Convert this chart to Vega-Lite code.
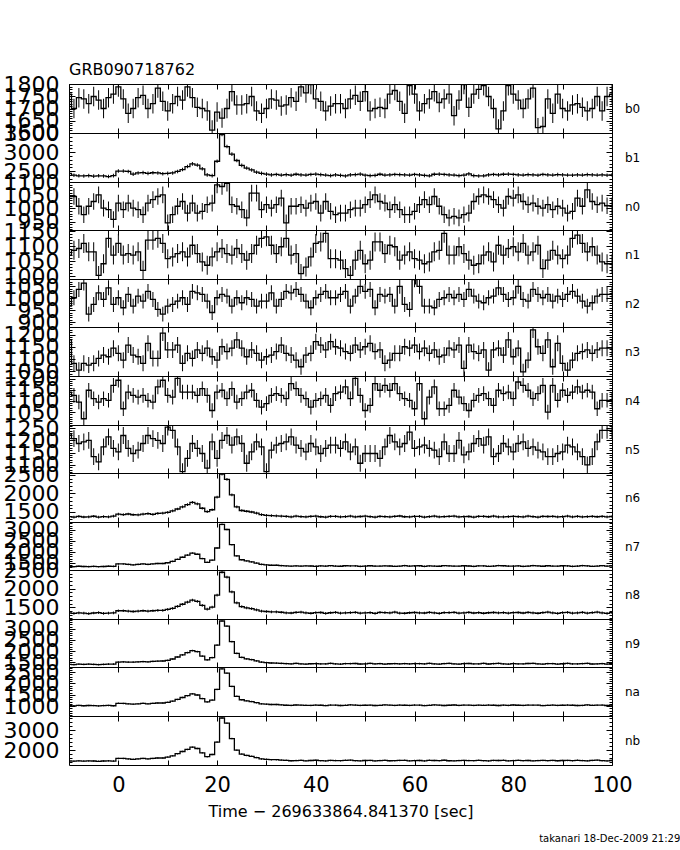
{"$schema":"https://vega.github.io/schema/vega-lite/v6.json",
"background":"white",
"padding":{"left":2,"top":61,"right":0,"bottom":0},
"title":{"text":"takanari 18-Dec-2009 21:29","orient":"bottom","anchor":"end","fontSize":10,"fontWeight":"normal","font":"DejaVu Sans","color":"black","offset":14,"dx":40},
"config":{"font":"DejaVu Sans","numberFormat":"d","view":{"stroke":"black","strokeWidth":1},
"axis":{"grid":false,"domain":false,"labelFont":"DejaVu Sans","labelFontSize":22,"labelColor":"black","tickColor":"black","tickWidth":1,"labelOverlap":false,"labelFlush":false,"labelBound":false,"titleFont":"DejaVu Sans","titleColor":"black","titleFontWeight":"normal","labelPadding":16,"tickSize":-6}},
"datasets":{
"b0":[{"t":-10,"c":1760},{"t":-9,"c":1700},{"t":-8,"c":1745},{"t":-7,"c":1740},{"t":-6,"c":1720},{"t":-5,"c":1750},{"t":-4,"c":1735},{"t":-3,"c":1700},{"t":-2,"c":1745},{"t":-1,"c":1760},{"t":0,"c":1790},{"t":1,"c":1740},{"t":2,"c":1680},{"t":3,"c":1700},{"t":4,"c":1745},{"t":5,"c":1755},{"t":6,"c":1700},{"t":7,"c":1720},{"t":8,"c":1785},{"t":9,"c":1730},{"t":10,"c":1690},{"t":11,"c":1720},{"t":12,"c":1750},{"t":13,"c":1735},{"t":14,"c":1790},{"t":15,"c":1745},{"t":16,"c":1705},{"t":17,"c":1700},{"t":18,"c":1690},{"t":19,"c":1610},{"t":20,"c":1685},{"t":21,"c":1660},{"t":22,"c":1700},{"t":23,"c":1770},{"t":24,"c":1715},{"t":25,"c":1715},{"t":26,"c":1720},{"t":27,"c":1750},{"t":28,"c":1690},{"t":29,"c":1680},{"t":30,"c":1700},{"t":31,"c":1740},{"t":32,"c":1735},{"t":33,"c":1710},{"t":34,"c":1715},{"t":35,"c":1745},{"t":36,"c":1730},{"t":37,"c":1790},{"t":38,"c":1765},{"t":39,"c":1800},{"t":40,"c":1740},{"t":41,"c":1730},{"t":42,"c":1690},{"t":43,"c":1710},{"t":44,"c":1720},{"t":45,"c":1720},{"t":46,"c":1700},{"t":47,"c":1740},{"t":48,"c":1755},{"t":49,"c":1730},{"t":50,"c":1770},{"t":51,"c":1690},{"t":52,"c":1700},{"t":53,"c":1705},{"t":54,"c":1700},{"t":55,"c":1760},{"t":56,"c":1775},{"t":57,"c":1730},{"t":58,"c":1680},{"t":59,"c":1795},{"t":60,"c":1760},{"t":61,"c":1690},{"t":62,"c":1720},{"t":63,"c":1740},{"t":64,"c":1770},{"t":65,"c":1725},{"t":66,"c":1740},{"t":67,"c":1760},{"t":68,"c":1670},{"t":69,"c":1735},{"t":70,"c":1800},{"t":71,"c":1705},{"t":72,"c":1760},{"t":73,"c":1780},{"t":74,"c":1795},{"t":75,"c":1750},{"t":76,"c":1700},{"t":77,"c":1615},{"t":78,"c":1690},{"t":79,"c":1795},{"t":80,"c":1760},{"t":81,"c":1735},{"t":82,"c":1700},{"t":83,"c":1740},{"t":84,"c":1785},{"t":85,"c":1620},{"t":86,"c":1625},{"t":87,"c":1740},{"t":88,"c":1680},{"t":89,"c":1760},{"t":90,"c":1700},{"t":91,"c":1690},{"t":92,"c":1715},{"t":93,"c":1720},{"t":94,"c":1705},{"t":95,"c":1690},{"t":96,"c":1700},{"t":97,"c":1750},{"t":98,"c":1690},{"t":99,"c":1750},{"t":100,"c":1760}],
"b1":[{"t":-10,"c":2440},{"t":-9,"c":2390},{"t":-8,"c":2375},{"t":-7,"c":2370},{"t":-6,"c":2380},{"t":-5,"c":2365},{"t":-4,"c":2375},{"t":-3,"c":2370},{"t":-2,"c":2355},{"t":-1,"c":2380},{"t":0,"c":2500},{"t":1,"c":2500},{"t":2,"c":2490},{"t":3,"c":2420},{"t":4,"c":2450},{"t":5,"c":2460},{"t":6,"c":2440},{"t":7,"c":2455},{"t":8,"c":2450},{"t":9,"c":2430},{"t":10,"c":2440},{"t":11,"c":2450},{"t":12,"c":2490},{"t":13,"c":2540},{"t":14,"c":2620},{"t":15,"c":2690},{"t":16,"c":2660},{"t":17,"c":2560},{"t":18,"c":2400},{"t":19,"c":2380},{"t":20,"c":2760},{"t":21,"c":3470},{"t":22,"c":3150},{"t":23,"c":2950},{"t":24,"c":2780},{"t":25,"c":2650},{"t":26,"c":2580},{"t":27,"c":2530},{"t":28,"c":2470},{"t":29,"c":2440},{"t":30,"c":2420},{"t":31,"c":2400},{"t":32,"c":2410},{"t":33,"c":2395},{"t":34,"c":2405},{"t":35,"c":2390},{"t":36,"c":2415},{"t":37,"c":2400},{"t":38,"c":2395},{"t":39,"c":2410},{"t":40,"c":2420},{"t":41,"c":2405},{"t":42,"c":2395},{"t":43,"c":2380},{"t":44,"c":2400},{"t":45,"c":2385},{"t":46,"c":2370},{"t":47,"c":2400},{"t":48,"c":2405},{"t":49,"c":2420},{"t":50,"c":2390},{"t":51,"c":2380},{"t":52,"c":2385},{"t":53,"c":2415},{"t":54,"c":2395},{"t":55,"c":2400},{"t":56,"c":2410},{"t":57,"c":2405},{"t":58,"c":2400},{"t":59,"c":2395},{"t":60,"c":2410},{"t":61,"c":2400},{"t":62,"c":2385},{"t":63,"c":2375},{"t":64,"c":2415},{"t":65,"c":2420},{"t":66,"c":2410},{"t":67,"c":2400},{"t":68,"c":2395},{"t":69,"c":2380},{"t":70,"c":2395},{"t":71,"c":2425},{"t":72,"c":2380},{"t":73,"c":2370},{"t":74,"c":2375},{"t":75,"c":2400},{"t":76,"c":2410},{"t":77,"c":2400},{"t":78,"c":2415},{"t":79,"c":2420},{"t":80,"c":2410},{"t":81,"c":2400},{"t":82,"c":2395},{"t":83,"c":2405},{"t":84,"c":2400},{"t":85,"c":2390},{"t":86,"c":2410},{"t":87,"c":2400},{"t":88,"c":2395},{"t":89,"c":2405},{"t":90,"c":2400},{"t":91,"c":2395},{"t":92,"c":2390},{"t":93,"c":2400},{"t":94,"c":2395},{"t":95,"c":2405},{"t":96,"c":2400},{"t":97,"c":2395},{"t":98,"c":2400},{"t":99,"c":2390},{"t":100,"c":2400}],
"n0":[{"t":-10,"c":1045},{"t":-9,"c":1045},{"t":-8,"c":1008},{"t":-7,"c":976},{"t":-6,"c":1008},{"t":-5,"c":1026},{"t":-4,"c":1051},{"t":-3,"c":1001},{"t":-2,"c":995},{"t":-1,"c":958},{"t":0,"c":1020},{"t":1,"c":995},{"t":2,"c":1020},{"t":3,"c":1001},{"t":4,"c":995},{"t":5,"c":976},{"t":6,"c":1020},{"t":7,"c":1033},{"t":8,"c":1045},{"t":9,"c":1051},{"t":10,"c":945},{"t":11,"c":976},{"t":12,"c":1008},{"t":13,"c":1026},{"t":14,"c":982},{"t":15,"c":1020},{"t":16,"c":982},{"t":17,"c":989},{"t":18,"c":1014},{"t":19,"c":1020},{"t":20,"c":1089},{"t":21,"c":1083},{"t":22,"c":1095},{"t":23,"c":1014},{"t":24,"c":1008},{"t":25,"c":995},{"t":26,"c":964},{"t":27,"c":1058},{"t":28,"c":1058},{"t":29,"c":995},{"t":30,"c":1014},{"t":31,"c":1001},{"t":32,"c":1014},{"t":33,"c":1039},{"t":34,"c":945},{"t":35,"c":1008},{"t":36,"c":1008},{"t":37,"c":1014},{"t":38,"c":1001},{"t":39,"c":1020},{"t":40,"c":1026},{"t":41,"c":982},{"t":42,"c":1026},{"t":43,"c":989},{"t":44,"c":976},{"t":45,"c":982},{"t":46,"c":982},{"t":47,"c":995},{"t":48,"c":1001},{"t":49,"c":1001},{"t":50,"c":1014},{"t":51,"c":1033},{"t":52,"c":1051},{"t":53,"c":1026},{"t":54,"c":1020},{"t":55,"c":995},{"t":56,"c":1014},{"t":57,"c":995},{"t":58,"c":976},{"t":59,"c":976},{"t":60,"c":989},{"t":61,"c":1014},{"t":62,"c":1033},{"t":63,"c":1014},{"t":64,"c":1045},{"t":65,"c":1008},{"t":66,"c":976},{"t":67,"c":964},{"t":68,"c":970},{"t":69,"c":964},{"t":70,"c":976},{"t":71,"c":982},{"t":72,"c":1026},{"t":73,"c":1045},{"t":74,"c":1051},{"t":75,"c":1045},{"t":76,"c":1033},{"t":77,"c":1014},{"t":78,"c":1001},{"t":79,"c":1045},{"t":80,"c":1039},{"t":81,"c":1051},{"t":82,"c":1026},{"t":83,"c":1014},{"t":84,"c":1020},{"t":85,"c":1008},{"t":86,"c":1001},{"t":87,"c":1014},{"t":88,"c":995},{"t":89,"c":1008},{"t":90,"c":1001},{"t":91,"c":982},{"t":92,"c":989},{"t":93,"c":1039},{"t":94,"c":1008},{"t":95,"c":1070},{"t":96,"c":1026},{"t":97,"c":1014},{"t":98,"c":1020},{"t":99,"c":1010},{"t":100,"c":1010}],
"n1":[{"t":-10,"c":1071},{"t":-9,"c":1087},{"t":-8,"c":1093},{"t":-7,"c":1110},{"t":-6,"c":1082},{"t":-5,"c":1082},{"t":-4,"c":1003},{"t":-3,"c":1042},{"t":-2,"c":1127},{"t":-1,"c":1071},{"t":0,"c":1110},{"t":1,"c":1071},{"t":2,"c":1076},{"t":3,"c":1071},{"t":4,"c":1082},{"t":5,"c":1020},{"t":6,"c":1121},{"t":7,"c":1121},{"t":8,"c":1127},{"t":9,"c":1110},{"t":10,"c":1059},{"t":11,"c":1065},{"t":12,"c":1076},{"t":13,"c":1082},{"t":14,"c":1065},{"t":15,"c":1104},{"t":16,"c":1076},{"t":17,"c":1048},{"t":18,"c":1037},{"t":19,"c":1065},{"t":20,"c":1082},{"t":21,"c":1093},{"t":22,"c":1076},{"t":23,"c":1071},{"t":24,"c":1093},{"t":25,"c":1076},{"t":26,"c":1054},{"t":27,"c":1076},{"t":28,"c":1104},{"t":29,"c":1127},{"t":30,"c":1132},{"t":31,"c":1104},{"t":32,"c":1076},{"t":33,"c":1099},{"t":34,"c":1127},{"t":35,"c":1071},{"t":36,"c":1076},{"t":37,"c":1009},{"t":38,"c":1031},{"t":39,"c":1065},{"t":40,"c":1110},{"t":41,"c":1115},{"t":42,"c":1144},{"t":43,"c":1059},{"t":44,"c":1059},{"t":45,"c":1054},{"t":46,"c":1026},{"t":47,"c":1003},{"t":48,"c":1054},{"t":49,"c":1087},{"t":50,"c":1042},{"t":51,"c":1054},{"t":52,"c":1115},{"t":53,"c":1115},{"t":54,"c":1076},{"t":55,"c":1104},{"t":56,"c":1099},{"t":57,"c":1054},{"t":58,"c":1071},{"t":59,"c":1082},{"t":60,"c":1059},{"t":61,"c":1054},{"t":62,"c":1042},{"t":63,"c":1048},{"t":64,"c":1082},{"t":65,"c":1087},{"t":66,"c":1144},{"t":67,"c":1071},{"t":68,"c":1071},{"t":69,"c":1099},{"t":70,"c":1076},{"t":71,"c":1054},{"t":72,"c":1037},{"t":73,"c":1042},{"t":74,"c":1071},{"t":75,"c":1082},{"t":76,"c":1048},{"t":77,"c":1104},{"t":78,"c":1071},{"t":79,"c":1093},{"t":80,"c":1099},{"t":81,"c":1082},{"t":82,"c":1110},{"t":83,"c":1071},{"t":84,"c":1082},{"t":85,"c":1104},{"t":86,"c":1026},{"t":87,"c":1054},{"t":88,"c":1087},{"t":89,"c":1071},{"t":90,"c":1059},{"t":91,"c":1071},{"t":92,"c":1127},{"t":93,"c":1138},{"t":94,"c":1110},{"t":95,"c":1082},{"t":96,"c":1099},{"t":97,"c":1071},{"t":98,"c":1048},{"t":99,"c":1042},{"t":100,"c":1042}],
"n2":[{"t":-10,"c":967},{"t":-9,"c":1002},{"t":-8,"c":1037},{"t":-7,"c":1064},{"t":-6,"c":933},{"t":-5,"c":974},{"t":-4,"c":1023},{"t":-3,"c":995},{"t":-2,"c":1044},{"t":-1,"c":974},{"t":0,"c":1002},{"t":1,"c":960},{"t":2,"c":1016},{"t":3,"c":967},{"t":4,"c":1009},{"t":5,"c":988},{"t":6,"c":1029},{"t":7,"c":995},{"t":8,"c":953},{"t":9,"c":933},{"t":10,"c":967},{"t":11,"c":974},{"t":12,"c":988},{"t":13,"c":1002},{"t":14,"c":974},{"t":15,"c":1029},{"t":16,"c":1023},{"t":17,"c":1016},{"t":18,"c":988},{"t":19,"c":940},{"t":20,"c":1002},{"t":21,"c":1016},{"t":22,"c":1009},{"t":23,"c":967},{"t":24,"c":1002},{"t":25,"c":981},{"t":26,"c":1002},{"t":27,"c":995},{"t":28,"c":967},{"t":29,"c":988},{"t":30,"c":988},{"t":31,"c":1023},{"t":32,"c":967},{"t":33,"c":995},{"t":34,"c":1029},{"t":35,"c":1023},{"t":36,"c":1037},{"t":37,"c":1016},{"t":38,"c":988},{"t":39,"c":960},{"t":40,"c":1002},{"t":41,"c":1016},{"t":42,"c":1029},{"t":43,"c":1002},{"t":44,"c":1002},{"t":45,"c":1016},{"t":46,"c":1029},{"t":47,"c":967},{"t":48,"c":1009},{"t":49,"c":1050},{"t":50,"c":1029},{"t":51,"c":1037},{"t":52,"c":960},{"t":53,"c":1016},{"t":54,"c":1009},{"t":55,"c":1016},{"t":56,"c":967},{"t":57,"c":1050},{"t":58,"c":974},{"t":59,"c":953},{"t":60,"c":1078},{"t":61,"c":1050},{"t":62,"c":967},{"t":63,"c":967},{"t":64,"c":960},{"t":65,"c":995},{"t":66,"c":1002},{"t":67,"c":1016},{"t":68,"c":1002},{"t":69,"c":1016},{"t":70,"c":995},{"t":71,"c":1037},{"t":72,"c":1009},{"t":73,"c":988},{"t":74,"c":981},{"t":75,"c":1002},{"t":76,"c":1009},{"t":77,"c":1044},{"t":78,"c":1016},{"t":79,"c":995},{"t":80,"c":1002},{"t":81,"c":1050},{"t":82,"c":995},{"t":83,"c":988},{"t":84,"c":1037},{"t":85,"c":1016},{"t":86,"c":1002},{"t":87,"c":1016},{"t":88,"c":988},{"t":89,"c":1009},{"t":90,"c":995},{"t":91,"c":1016},{"t":92,"c":1029},{"t":93,"c":1009},{"t":94,"c":988},{"t":95,"c":967},{"t":96,"c":981},{"t":97,"c":1009},{"t":98,"c":1016},{"t":99,"c":1016},{"t":100,"c":1016}],
"n3":[{"t":-10,"c":1178},{"t":-9,"c":1082},{"t":-8,"c":1054},{"t":-7,"c":1082},{"t":-6,"c":1075},{"t":-5,"c":1082},{"t":-4,"c":1102},{"t":-3,"c":1116},{"t":-2,"c":1109},{"t":-1,"c":1144},{"t":0,"c":1123},{"t":1,"c":1095},{"t":2,"c":1157},{"t":3,"c":1116},{"t":4,"c":1109},{"t":5,"c":1082},{"t":6,"c":1164},{"t":7,"c":1102},{"t":8,"c":1102},{"t":9,"c":1206},{"t":10,"c":1137},{"t":11,"c":1137},{"t":12,"c":1157},{"t":13,"c":1082},{"t":14,"c":1123},{"t":15,"c":1102},{"t":16,"c":1137},{"t":17,"c":1123},{"t":18,"c":1144},{"t":19,"c":1109},{"t":20,"c":1095},{"t":21,"c":1150},{"t":22,"c":1130},{"t":23,"c":1144},{"t":24,"c":1178},{"t":25,"c":1144},{"t":26,"c":1109},{"t":27,"c":1137},{"t":28,"c":1123},{"t":29,"c":1095},{"t":30,"c":1109},{"t":31,"c":1116},{"t":32,"c":1130},{"t":33,"c":1157},{"t":34,"c":1123},{"t":35,"c":1116},{"t":36,"c":1095},{"t":37,"c":1068},{"t":38,"c":1116},{"t":39,"c":1123},{"t":40,"c":1171},{"t":41,"c":1157},{"t":42,"c":1137},{"t":43,"c":1171},{"t":44,"c":1150},{"t":45,"c":1144},{"t":46,"c":1130},{"t":47,"c":1123},{"t":48,"c":1157},{"t":49,"c":1137},{"t":50,"c":1150},{"t":51,"c":1164},{"t":52,"c":1130},{"t":53,"c":1137},{"t":54,"c":1082},{"t":55,"c":1095},{"t":56,"c":1123},{"t":57,"c":1123},{"t":58,"c":1150},{"t":59,"c":1144},{"t":60,"c":1157},{"t":61,"c":1130},{"t":62,"c":1144},{"t":63,"c":1123},{"t":64,"c":1137},{"t":65,"c":1109},{"t":66,"c":1116},{"t":67,"c":1144},{"t":68,"c":1137},{"t":69,"c":1157},{"t":70,"c":1061},{"t":71,"c":1157},{"t":72,"c":1130},{"t":73,"c":1123},{"t":74,"c":1137},{"t":75,"c":1054},{"t":76,"c":1137},{"t":77,"c":1144},{"t":78,"c":1116},{"t":79,"c":1178},{"t":80,"c":1109},{"t":81,"c":1144},{"t":82,"c":1047},{"t":83,"c":1095},{"t":84,"c":1219},{"t":85,"c":1150},{"t":86,"c":1123},{"t":87,"c":1178},{"t":88,"c":1068},{"t":89,"c":1164},{"t":90,"c":1082},{"t":91,"c":1054},{"t":92,"c":1095},{"t":93,"c":1123},{"t":94,"c":1130},{"t":95,"c":1137},{"t":96,"c":1123},{"t":97,"c":1137},{"t":98,"c":1144},{"t":99,"c":1144},{"t":100,"c":1144}],
"n4":[{"t":-10,"c":1140},{"t":-9,"c":1125},{"t":-8,"c":1095},{"t":-7,"c":1020},{"t":-6,"c":1148},{"t":-5,"c":1110},{"t":-4,"c":1095},{"t":-3,"c":1110},{"t":-2,"c":1103},{"t":-1,"c":1170},{"t":0,"c":1193},{"t":1,"c":1065},{"t":2,"c":1140},{"t":3,"c":1125},{"t":4,"c":1117},{"t":5,"c":1125},{"t":6,"c":1103},{"t":7,"c":1095},{"t":8,"c":1163},{"t":9,"c":1193},{"t":10,"c":1125},{"t":11,"c":1117},{"t":12,"c":1201},{"t":13,"c":1140},{"t":14,"c":1140},{"t":15,"c":1140},{"t":16,"c":1125},{"t":17,"c":1155},{"t":18,"c":1125},{"t":19,"c":1057},{"t":20,"c":1140},{"t":21,"c":1148},{"t":22,"c":1110},{"t":23,"c":1155},{"t":24,"c":1095},{"t":25,"c":1110},{"t":26,"c":1140},{"t":27,"c":1148},{"t":28,"c":1103},{"t":29,"c":1072},{"t":30,"c":1088},{"t":31,"c":1125},{"t":32,"c":1133},{"t":33,"c":1125},{"t":34,"c":1110},{"t":35,"c":1178},{"t":36,"c":1155},{"t":37,"c":1125},{"t":38,"c":1110},{"t":39,"c":1072},{"t":40,"c":1103},{"t":41,"c":1110},{"t":42,"c":1125},{"t":43,"c":1080},{"t":44,"c":1133},{"t":45,"c":1140},{"t":46,"c":1163},{"t":47,"c":1110},{"t":48,"c":1201},{"t":49,"c":1125},{"t":50,"c":1057},{"t":51,"c":1080},{"t":52,"c":1178},{"t":53,"c":1148},{"t":54,"c":1170},{"t":55,"c":1148},{"t":56,"c":1178},{"t":57,"c":1133},{"t":58,"c":1110},{"t":59,"c":1103},{"t":60,"c":1065},{"t":61,"c":1178},{"t":62,"c":1020},{"t":63,"c":1117},{"t":64,"c":1163},{"t":65,"c":1065},{"t":66,"c":1065},{"t":67,"c":1080},{"t":68,"c":1148},{"t":69,"c":1117},{"t":70,"c":1088},{"t":71,"c":1057},{"t":72,"c":1103},{"t":73,"c":1125},{"t":74,"c":1133},{"t":75,"c":1110},{"t":76,"c":1080},{"t":77,"c":1148},{"t":78,"c":1133},{"t":79,"c":1140},{"t":80,"c":1110},{"t":81,"c":1185},{"t":82,"c":1170},{"t":83,"c":1148},{"t":84,"c":1110},{"t":85,"c":1133},{"t":86,"c":1170},{"t":87,"c":1050},{"t":88,"c":1170},{"t":89,"c":1103},{"t":90,"c":1148},{"t":91,"c":1125},{"t":92,"c":1140},{"t":93,"c":1163},{"t":94,"c":1140},{"t":95,"c":1148},{"t":96,"c":1140},{"t":97,"c":1065},{"t":98,"c":1103},{"t":99,"c":1103},{"t":100,"c":1103}],
"n5":[{"t":-10,"c":1227},{"t":-9,"c":1207},{"t":-8,"c":1187},{"t":-7,"c":1194},{"t":-6,"c":1200},{"t":-5,"c":1133},{"t":-4,"c":1112},{"t":-3,"c":1173},{"t":-2,"c":1214},{"t":-1,"c":1167},{"t":0,"c":1153},{"t":1,"c":1220},{"t":2,"c":1167},{"t":3,"c":1146},{"t":4,"c":1160},{"t":5,"c":1187},{"t":6,"c":1220},{"t":7,"c":1207},{"t":8,"c":1200},{"t":9,"c":1187},{"t":10,"c":1254},{"t":11,"c":1241},{"t":12,"c":1173},{"t":13,"c":1072},{"t":14,"c":1126},{"t":15,"c":1187},{"t":16,"c":1167},{"t":17,"c":1146},{"t":18,"c":1086},{"t":19,"c":1194},{"t":20,"c":1126},{"t":21,"c":1200},{"t":22,"c":1220},{"t":23,"c":1180},{"t":24,"c":1214},{"t":25,"c":1187},{"t":26,"c":1106},{"t":27,"c":1153},{"t":28,"c":1194},{"t":29,"c":1173},{"t":30,"c":1072},{"t":31,"c":1160},{"t":32,"c":1180},{"t":33,"c":1187},{"t":34,"c":1194},{"t":35,"c":1214},{"t":36,"c":1180},{"t":37,"c":1167},{"t":38,"c":1153},{"t":39,"c":1187},{"t":40,"c":1173},{"t":41,"c":1146},{"t":42,"c":1167},{"t":43,"c":1180},{"t":44,"c":1180},{"t":45,"c":1167},{"t":46,"c":1194},{"t":47,"c":1153},{"t":48,"c":1173},{"t":49,"c":1106},{"t":50,"c":1146},{"t":51,"c":1146},{"t":52,"c":1146},{"t":53,"c":1126},{"t":54,"c":1173},{"t":55,"c":1220},{"t":56,"c":1194},{"t":57,"c":1173},{"t":58,"c":1187},{"t":59,"c":1234},{"t":60,"c":1167},{"t":61,"c":1173},{"t":62,"c":1180},{"t":63,"c":1167},{"t":64,"c":1160},{"t":65,"c":1133},{"t":66,"c":1194},{"t":67,"c":1146},{"t":68,"c":1146},{"t":69,"c":1200},{"t":70,"c":1140},{"t":71,"c":1153},{"t":72,"c":1187},{"t":73,"c":1207},{"t":74,"c":1180},{"t":75,"c":1214},{"t":76,"c":1133},{"t":77,"c":1146},{"t":78,"c":1187},{"t":79,"c":1173},{"t":80,"c":1153},{"t":81,"c":1187},{"t":82,"c":1194},{"t":83,"c":1167},{"t":84,"c":1173},{"t":85,"c":1160},{"t":86,"c":1153},{"t":87,"c":1133},{"t":88,"c":1133},{"t":89,"c":1146},{"t":90,"c":1153},{"t":91,"c":1180},{"t":92,"c":1173},{"t":93,"c":1153},{"t":94,"c":1133},{"t":95,"c":1099},{"t":96,"c":1133},{"t":97,"c":1194},{"t":98,"c":1241},{"t":99,"c":1241},{"t":100,"c":1241}],
"n6":[{"t":-10,"c":1375},{"t":-9,"c":1360},{"t":-8,"c":1380},{"t":-7,"c":1365},{"t":-6,"c":1370},{"t":-5,"c":1385},{"t":-4,"c":1360},{"t":-3,"c":1375},{"t":-2,"c":1370},{"t":-1,"c":1390},{"t":0,"c":1440},{"t":1,"c":1430},{"t":2,"c":1445},{"t":3,"c":1425},{"t":4,"c":1420},{"t":5,"c":1440},{"t":6,"c":1455},{"t":7,"c":1435},{"t":8,"c":1460},{"t":9,"c":1470},{"t":10,"c":1490},{"t":11,"c":1530},{"t":12,"c":1580},{"t":13,"c":1640},{"t":14,"c":1700},{"t":15,"c":1760},{"t":16,"c":1720},{"t":17,"c":1600},{"t":18,"c":1510},{"t":19,"c":1560},{"t":20,"c":1900},{"t":21,"c":2520},{"t":22,"c":2380},{"t":23,"c":1960},{"t":24,"c":1640},{"t":25,"c":1540},{"t":26,"c":1520},{"t":27,"c":1500},{"t":28,"c":1470},{"t":29,"c":1430},{"t":30,"c":1410},{"t":31,"c":1400},{"t":32,"c":1395},{"t":33,"c":1388},{"t":34,"c":1382},{"t":35,"c":1370},{"t":36,"c":1387},{"t":37,"c":1375},{"t":38,"c":1366},{"t":39,"c":1381},{"t":40,"c":1390},{"t":41,"c":1372},{"t":42,"c":1363},{"t":43,"c":1380},{"t":44,"c":1384},{"t":45,"c":1369},{"t":46,"c":1375},{"t":47,"c":1386},{"t":48,"c":1368},{"t":49,"c":1378},{"t":50,"c":1388},{"t":51,"c":1374},{"t":52,"c":1364},{"t":53,"c":1381},{"t":54,"c":1375},{"t":55,"c":1370},{"t":56,"c":1384},{"t":57,"c":1392},{"t":58,"c":1372},{"t":59,"c":1366},{"t":60,"c":1380},{"t":61,"c":1382},{"t":62,"c":1363},{"t":63,"c":1376},{"t":64,"c":1386},{"t":65,"c":1369},{"t":66,"c":1374},{"t":67,"c":1381},{"t":68,"c":1387},{"t":69,"c":1368},{"t":70,"c":1375},{"t":71,"c":1378},{"t":72,"c":1364},{"t":73,"c":1384},{"t":74,"c":1380},{"t":75,"c":1372},{"t":76,"c":1388},{"t":77,"c":1369},{"t":78,"c":1366},{"t":79,"c":1376},{"t":80,"c":1382},{"t":81,"c":1375},{"t":82,"c":1370},{"t":83,"c":1386},{"t":84,"c":1374},{"t":85,"c":1363},{"t":86,"c":1381},{"t":87,"c":1378},{"t":88,"c":1384},{"t":89,"c":1368},{"t":90,"c":1375},{"t":91,"c":1387},{"t":92,"c":1370},{"t":93,"c":1380},{"t":94,"c":1366},{"t":95,"c":1376},{"t":96,"c":1382},{"t":97,"c":1372},{"t":98,"c":1381},{"t":99,"c":1369},{"t":100,"c":1378}],
"n7":[{"t":-10,"c":1345},{"t":-9,"c":1330},{"t":-8,"c":1350},{"t":-7,"c":1340},{"t":-6,"c":1335},{"t":-5,"c":1345},{"t":-4,"c":1330},{"t":-3,"c":1340},{"t":-2,"c":1350},{"t":-1,"c":1345},{"t":0,"c":1455},{"t":1,"c":1455},{"t":2,"c":1435},{"t":3,"c":1415},{"t":4,"c":1435},{"t":5,"c":1455},{"t":6,"c":1435},{"t":7,"c":1455},{"t":8,"c":1475},{"t":9,"c":1475},{"t":10,"c":1510},{"t":11,"c":1570},{"t":12,"c":1665},{"t":13,"c":1760},{"t":14,"c":1855},{"t":15,"c":1950},{"t":16,"c":1895},{"t":17,"c":1700},{"t":18,"c":1530},{"t":19,"c":1625},{"t":20,"c":2180},{"t":21,"c":3250},{"t":22,"c":3020},{"t":23,"c":2330},{"t":24,"c":1820},{"t":25,"c":1645},{"t":26,"c":1590},{"t":27,"c":1550},{"t":28,"c":1495},{"t":29,"c":1435},{"t":30,"c":1415},{"t":31,"c":1395},{"t":32,"c":1395},{"t":33,"c":1380},{"t":34,"c":1364},{"t":35,"c":1352},{"t":36,"c":1368},{"t":37,"c":1356},{"t":38,"c":1370},{"t":39,"c":1362},{"t":40,"c":1348},{"t":41,"c":1366},{"t":42,"c":1354},{"t":43,"c":1376},{"t":44,"c":1360},{"t":45,"c":1350},{"t":46,"c":1372},{"t":47,"c":1364},{"t":48,"c":1368},{"t":49,"c":1344},{"t":50,"c":1358},{"t":51,"c":1374},{"t":52,"c":1354},{"t":53,"c":1360},{"t":54,"c":1370},{"t":55,"c":1362},{"t":56,"c":1348},{"t":57,"c":1352},{"t":58,"c":1378},{"t":59,"c":1356},{"t":60,"c":1366},{"t":61,"c":1372},{"t":62,"c":1346},{"t":63,"c":1364},{"t":64,"c":1360},{"t":65,"c":1350},{"t":66,"c":1376},{"t":67,"c":1368},{"t":68,"c":1358},{"t":69,"c":1352},{"t":70,"c":1374},{"t":71,"c":1362},{"t":72,"c":1344},{"t":73,"c":1370},{"t":74,"c":1366},{"t":75,"c":1348},{"t":76,"c":1356},{"t":77,"c":1382},{"t":78,"c":1372},{"t":79,"c":1354},{"t":80,"c":1360},{"t":81,"c":1368},{"t":82,"c":1346},{"t":83,"c":1358},{"t":84,"c":1378},{"t":85,"c":1364},{"t":86,"c":1350},{"t":87,"c":1374},{"t":88,"c":1360},{"t":89,"c":1352},{"t":90,"c":1372},{"t":91,"c":1366},{"t":92,"c":1344},{"t":93,"c":1356},{"t":94,"c":1380},{"t":95,"c":1368},{"t":96,"c":1348},{"t":97,"c":1360},{"t":98,"c":1376},{"t":99,"c":1354},{"t":100,"c":1370}],
"n8":[{"t":-10,"c":1345},{"t":-9,"c":1335},{"t":-8,"c":1350},{"t":-7,"c":1340},{"t":-6,"c":1330},{"t":-5,"c":1345},{"t":-4,"c":1355},{"t":-3,"c":1335},{"t":-2,"c":1340},{"t":-1,"c":1350},{"t":0,"c":1405},{"t":1,"c":1405},{"t":2,"c":1395},{"t":3,"c":1385},{"t":4,"c":1395},{"t":5,"c":1405},{"t":6,"c":1395},{"t":7,"c":1405},{"t":8,"c":1415},{"t":9,"c":1415},{"t":10,"c":1440},{"t":11,"c":1470},{"t":12,"c":1525},{"t":13,"c":1580},{"t":14,"c":1635},{"t":15,"c":1690},{"t":16,"c":1660},{"t":17,"c":1550},{"t":18,"c":1450},{"t":19,"c":1505},{"t":20,"c":1825},{"t":21,"c":2440},{"t":22,"c":2310},{"t":23,"c":1910},{"t":24,"c":1615},{"t":25,"c":1515},{"t":26,"c":1485},{"t":27,"c":1460},{"t":28,"c":1430},{"t":29,"c":1395},{"t":30,"c":1385},{"t":31,"c":1375},{"t":32,"c":1375},{"t":33,"c":1365},{"t":34,"c":1350},{"t":35,"c":1345},{"t":36,"c":1361},{"t":37,"c":1370},{"t":38,"c":1346},{"t":39,"c":1339},{"t":40,"c":1355},{"t":41,"c":1359},{"t":42,"c":1336},{"t":43,"c":1352},{"t":44,"c":1363},{"t":45,"c":1343},{"t":46,"c":1348},{"t":47,"c":1357},{"t":48,"c":1364},{"t":49,"c":1341},{"t":50,"c":1350},{"t":51,"c":1354},{"t":52,"c":1337},{"t":53,"c":1361},{"t":54,"c":1355},{"t":55,"c":1346},{"t":56,"c":1366},{"t":57,"c":1343},{"t":58,"c":1339},{"t":59,"c":1352},{"t":60,"c":1359},{"t":61,"c":1350},{"t":62,"c":1345},{"t":63,"c":1363},{"t":64,"c":1348},{"t":65,"c":1336},{"t":66,"c":1357},{"t":67,"c":1354},{"t":68,"c":1361},{"t":69,"c":1341},{"t":70,"c":1350},{"t":71,"c":1364},{"t":72,"c":1345},{"t":73,"c":1355},{"t":74,"c":1339},{"t":75,"c":1352},{"t":76,"c":1359},{"t":77,"c":1346},{"t":78,"c":1357},{"t":79,"c":1343},{"t":80,"c":1354},{"t":81,"c":1359},{"t":82,"c":1345},{"t":83,"c":1364},{"t":84,"c":1350},{"t":85,"c":1339},{"t":86,"c":1357},{"t":87,"c":1368},{"t":88,"c":1346},{"t":89,"c":1336},{"t":90,"c":1355},{"t":91,"c":1361},{"t":92,"c":1343},{"t":93,"c":1350},{"t":94,"c":1363},{"t":95,"c":1341},{"t":96,"c":1354},{"t":97,"c":1366},{"t":98,"c":1348},{"t":99,"c":1337},{"t":100,"c":1357}],
"n9":[{"t":-10,"c":1400},{"t":-9,"c":1390},{"t":-8,"c":1410},{"t":-7,"c":1395},{"t":-6,"c":1405},{"t":-5,"c":1400},{"t":-4,"c":1385},{"t":-3,"c":1400},{"t":-2,"c":1410},{"t":-1,"c":1405},{"t":0,"c":1500},{"t":1,"c":1510},{"t":2,"c":1500},{"t":3,"c":1495},{"t":4,"c":1510},{"t":5,"c":1520},{"t":6,"c":1515},{"t":7,"c":1530},{"t":8,"c":1540},{"t":9,"c":1550},{"t":10,"c":1580},{"t":11,"c":1640},{"t":12,"c":1730},{"t":13,"c":1830},{"t":14,"c":1930},{"t":15,"c":2020},{"t":16,"c":1970},{"t":17,"c":1770},{"t":18,"c":1600},{"t":19,"c":1700},{"t":20,"c":2260},{"t":21,"c":3350},{"t":22,"c":3120},{"t":23,"c":2420},{"t":24,"c":1890},{"t":25,"c":1710},{"t":26,"c":1650},{"t":27,"c":1610},{"t":28,"c":1560},{"t":29,"c":1500},{"t":30,"c":1480},{"t":31,"c":1460},{"t":32,"c":1455},{"t":33,"c":1440},{"t":34,"c":1431},{"t":35,"c":1421},{"t":36,"c":1443},{"t":37,"c":1417},{"t":38,"c":1413},{"t":39,"c":1427},{"t":40,"c":1435},{"t":41,"c":1425},{"t":42,"c":1419},{"t":43,"c":1439},{"t":44,"c":1423},{"t":45,"c":1409},{"t":46,"c":1433},{"t":47,"c":1429},{"t":48,"c":1437},{"t":49,"c":1415},{"t":50,"c":1425},{"t":51,"c":1441},{"t":52,"c":1419},{"t":53,"c":1431},{"t":54,"c":1413},{"t":55,"c":1427},{"t":56,"c":1435},{"t":57,"c":1421},{"t":58,"c":1433},{"t":59,"c":1417},{"t":60,"c":1429},{"t":61,"c":1435},{"t":62,"c":1419},{"t":63,"c":1441},{"t":64,"c":1425},{"t":65,"c":1413},{"t":66,"c":1433},{"t":67,"c":1445},{"t":68,"c":1421},{"t":69,"c":1409},{"t":70,"c":1431},{"t":71,"c":1437},{"t":72,"c":1417},{"t":73,"c":1425},{"t":74,"c":1439},{"t":75,"c":1415},{"t":76,"c":1429},{"t":77,"c":1443},{"t":78,"c":1423},{"t":79,"c":1411},{"t":80,"c":1433},{"t":81,"c":1425},{"t":82,"c":1419},{"t":83,"c":1437},{"t":84,"c":1447},{"t":85,"c":1421},{"t":86,"c":1413},{"t":87,"c":1431},{"t":88,"c":1435},{"t":89,"c":1409},{"t":90,"c":1427},{"t":91,"c":1439},{"t":92,"c":1417},{"t":93,"c":1423},{"t":94,"c":1433},{"t":95,"c":1441},{"t":96,"c":1415},{"t":97,"c":1425},{"t":98,"c":1429},{"t":99,"c":1411},{"t":100,"c":1437}],
"na":[{"t":-10,"c":1020},{"t":-9,"c":1010},{"t":-8,"c":1030},{"t":-7,"c":1015},{"t":-6,"c":1025},{"t":-5,"c":1020},{"t":-4,"c":1005},{"t":-3,"c":1020},{"t":-2,"c":1030},{"t":-1,"c":1015},{"t":0,"c":1120},{"t":1,"c":1115},{"t":2,"c":1100},{"t":3,"c":1085},{"t":4,"c":1100},{"t":5,"c":1120},{"t":6,"c":1100},{"t":7,"c":1120},{"t":8,"c":1135},{"t":9,"c":1135},{"t":10,"c":1165},{"t":11,"c":1215},{"t":12,"c":1295},{"t":13,"c":1380},{"t":14,"c":1460},{"t":15,"c":1540},{"t":16,"c":1490},{"t":17,"c":1330},{"t":18,"c":1185},{"t":19,"c":1265},{"t":20,"c":1735},{"t":21,"c":2650},{"t":22,"c":2455},{"t":23,"c":1870},{"t":24,"c":1430},{"t":25,"c":1280},{"t":26,"c":1230},{"t":27,"c":1200},{"t":28,"c":1150},{"t":29,"c":1100},{"t":30,"c":1085},{"t":31,"c":1070},{"t":32,"c":1070},{"t":33,"c":1055},{"t":34,"c":1035},{"t":35,"c":1027},{"t":36,"c":1048},{"t":37,"c":1041},{"t":38,"c":1033},{"t":39,"c":1029},{"t":40,"c":1046},{"t":41,"c":1037},{"t":42,"c":1022},{"t":43,"c":1043},{"t":44,"c":1040},{"t":45,"c":1025},{"t":46,"c":1032},{"t":47,"c":1053},{"t":48,"c":1045},{"t":49,"c":1030},{"t":50,"c":1035},{"t":51,"c":1041},{"t":52,"c":1024},{"t":53,"c":1033},{"t":54,"c":1049},{"t":55,"c":1038},{"t":56,"c":1027},{"t":57,"c":1046},{"t":58,"c":1035},{"t":59,"c":1029},{"t":60,"c":1045},{"t":61,"c":1040},{"t":62,"c":1022},{"t":63,"c":1032},{"t":64,"c":1051},{"t":65,"c":1041},{"t":66,"c":1025},{"t":67,"c":1035},{"t":68,"c":1048},{"t":69,"c":1030},{"t":70,"c":1043},{"t":71,"c":1038},{"t":72,"c":1029},{"t":73,"c":1041},{"t":74,"c":1032},{"t":75,"c":1043},{"t":76,"c":1037},{"t":77,"c":1025},{"t":78,"c":1040},{"t":79,"c":1030},{"t":80,"c":1048},{"t":81,"c":1035},{"t":82,"c":1027},{"t":83,"c":1045},{"t":84,"c":1038},{"t":85,"c":1041},{"t":86,"c":1022},{"t":87,"c":1033},{"t":88,"c":1046},{"t":89,"c":1030},{"t":90,"c":1035},{"t":91,"c":1043},{"t":92,"c":1037},{"t":93,"c":1025},{"t":94,"c":1029},{"t":95,"c":1049},{"t":96,"c":1032},{"t":97,"c":1040},{"t":98,"c":1045},{"t":99,"c":1024},{"t":100,"c":1038}],
"nb":[{"t":-10,"c":1450},{"t":-9,"c":1440},{"t":-8,"c":1460},{"t":-7,"c":1445},{"t":-6,"c":1455},{"t":-5,"c":1450},{"t":-4,"c":1435},{"t":-3,"c":1450},{"t":-2,"c":1460},{"t":-1,"c":1445},{"t":0,"c":1580},{"t":1,"c":1580},{"t":2,"c":1555},{"t":3,"c":1535},{"t":4,"c":1555},{"t":5,"c":1580},{"t":6,"c":1555},{"t":7,"c":1580},{"t":8,"c":1600},{"t":9,"c":1600},{"t":10,"c":1645},{"t":11,"c":1710},{"t":12,"c":1815},{"t":13,"c":1925},{"t":14,"c":2030},{"t":15,"c":2140},{"t":16,"c":2075},{"t":17,"c":1860},{"t":18,"c":1665},{"t":19,"c":1775},{"t":20,"c":2395},{"t":21,"c":3600},{"t":22,"c":3340},{"t":23,"c":2570},{"t":24,"c":1990},{"t":25,"c":1795},{"t":26,"c":1730},{"t":27,"c":1685},{"t":28,"c":1620},{"t":29,"c":1555},{"t":30,"c":1535},{"t":31,"c":1515},{"t":32,"c":1515},{"t":33,"c":1495},{"t":34,"c":1482},{"t":35,"c":1462},{"t":36,"c":1470},{"t":37,"c":1484},{"t":38,"c":1460},{"t":39,"c":1474},{"t":40,"c":1488},{"t":41,"c":1468},{"t":42,"c":1456},{"t":43,"c":1478},{"t":44,"c":1470},{"t":45,"c":1464},{"t":46,"c":1482},{"t":47,"c":1492},{"t":48,"c":1466},{"t":49,"c":1458},{"t":50,"c":1476},{"t":51,"c":1480},{"t":52,"c":1454},{"t":53,"c":1472},{"t":54,"c":1484},{"t":55,"c":1462},{"t":56,"c":1468},{"t":57,"c":1478},{"t":58,"c":1486},{"t":59,"c":1460},{"t":60,"c":1470},{"t":61,"c":1474},{"t":62,"c":1456},{"t":63,"c":1482},{"t":64,"c":1476},{"t":65,"c":1466},{"t":66,"c":1488},{"t":67,"c":1462},{"t":68,"c":1458},{"t":69,"c":1472},{"t":70,"c":1480},{"t":71,"c":1470},{"t":72,"c":1464},{"t":73,"c":1484},{"t":74,"c":1468},{"t":75,"c":1454},{"t":76,"c":1478},{"t":77,"c":1474},{"t":78,"c":1482},{"t":79,"c":1460},{"t":80,"c":1470},{"t":81,"c":1486},{"t":82,"c":1464},{"t":83,"c":1476},{"t":84,"c":1458},{"t":85,"c":1472},{"t":86,"c":1480},{"t":87,"c":1466},{"t":88,"c":1478},{"t":89,"c":1462},{"t":90,"c":1474},{"t":91,"c":1480},{"t":92,"c":1464},{"t":93,"c":1486},{"t":94,"c":1470},{"t":95,"c":1458},{"t":96,"c":1478},{"t":97,"c":1490},{"t":98,"c":1466},{"t":99,"c":1454},{"t":100,"c":1476}]
},
"spacing":0,
"bounds":"flush",
"vconcat":[
{"height":49,"width":543,"data":{"name":"b0"},"title":{"text":"GRB090718762","anchor":"start","frame":"group","fontSize":16,"fontWeight":"normal","baseline":"alphabetic","offset":9,"dy":27,"color":"black"},"layer":[
{"mark":{"type":"line","interpolate":"step","color":"black","strokeWidth":1.3,"clip":true},"encoding":{"x":{"field":"t","type":"quantitative","scale":{"domain":[-10,100],"nice":false},"axis":{"orient":"bottom","values":[0,10,20,30,40,50,60,70,80,90,100],"labels":false,"tickSize":-5,"title":null}},"y":{"field":"c","type":"quantitative","scale":{"domain":[1598,1802],"zero":false,"nice":false},"axis":{"orient":"left","values":[1600,1650,1700,1750,1800],"title":null}}}},
{"mark":{"type":"tick","orient":"vertical","size":19.5,"thickness":1,"color":"black","opacity":1,"clip":true},"encoding":{"x":{"field":"t","type":"quantitative","scale":{"domain":[-10,100],"nice":false},"axis":{"orient":"top","values":[0,10,20,30,40,50,60,70,80,90,100],"labels":false,"tickSize":-5,"title":null}},"y":{"field":"c","type":"quantitative","scale":{"domain":[1598,1802],"zero":false,"nice":false},"axis":{"orient":"right","values":[1600,1650,1700,1750,1800],"labels":false,"title":"b0","titleAngle":0,"titleAlign":"left","titleBaseline":"middle","titlePadding":12,"titleFontSize":12}}}},
{"mark":{"type":"line","opacity":0},"encoding":{"x":{"field":"t","type":"quantitative","scale":{"domain":[-10,100],"nice":false},"axis":null},"y":{"field":"c","type":"quantitative","scale":{"domain":[1598,1802],"zero":false,"nice":false},"axis":{"orient":"left","tickCount":20,"labels":false,"tickSize":-3,"title":null}}}},
{"mark":{"type":"line","opacity":0},"encoding":{"x":{"field":"t","type":"quantitative","scale":{"domain":[-10,100],"nice":false},"axis":null},"y":{"field":"c","type":"quantitative","scale":{"domain":[1598,1802],"zero":false,"nice":false},"axis":{"orient":"right","tickCount":20,"labels":false,"tickSize":-3,"title":null}}}}
],"resolve":{"axis":{"x":"independent","y":"independent"}}},
{"height":49,"width":543,"data":{"name":"b1"},"layer":[
{"mark":{"type":"line","interpolate":"step","color":"black","strokeWidth":1.3,"clip":true},"encoding":{"x":{"field":"t","type":"quantitative","scale":{"domain":[-10,100],"nice":false},"axis":{"orient":"bottom","values":[0,10,20,30,40,50,60,70,80,90,100],"labels":false,"tickSize":-5,"title":null}},"y":{"field":"c","type":"quantitative","scale":{"domain":[2210,3510],"zero":false,"nice":false},"axis":{"orient":"left","values":[2500,3000,3500],"title":null}}}},
{"mark":{"type":"tick","orient":"vertical","size":3.6,"thickness":1,"color":"black","opacity":1,"clip":true},"encoding":{"x":{"field":"t","type":"quantitative","scale":{"domain":[-10,100],"nice":false},"axis":{"orient":"top","values":[0,10,20,30,40,50,60,70,80,90,100],"labels":false,"tickSize":-5,"title":null}},"y":{"field":"c","type":"quantitative","scale":{"domain":[2210,3510],"zero":false,"nice":false},"axis":{"orient":"right","values":[2500,3000,3500],"labels":false,"title":"b1","titleAngle":0,"titleAlign":"left","titleBaseline":"middle","titlePadding":12,"titleFontSize":12}}}},
{"mark":{"type":"line","opacity":0},"encoding":{"x":{"field":"t","type":"quantitative","scale":{"domain":[-10,100],"nice":false},"axis":null},"y":{"field":"c","type":"quantitative","scale":{"domain":[2210,3510],"zero":false,"nice":false},"axis":{"orient":"left","tickCount":13,"labels":false,"tickSize":-3,"title":null}}}},
{"mark":{"type":"line","opacity":0},"encoding":{"x":{"field":"t","type":"quantitative","scale":{"domain":[-10,100],"nice":false},"axis":null},"y":{"field":"c","type":"quantitative","scale":{"domain":[2210,3510],"zero":false,"nice":false},"axis":{"orient":"right","tickCount":13,"labels":false,"tickSize":-3,"title":null}}}}
],"resolve":{"axis":{"x":"independent","y":"independent"}}},
{"height":48,"width":543,"data":{"name":"n0"},"layer":[
{"mark":{"type":"line","interpolate":"step","color":"black","strokeWidth":1.3,"clip":true},"encoding":{"x":{"field":"t","type":"quantitative","scale":{"domain":[-10,100],"nice":false},"axis":{"orient":"bottom","values":[0,10,20,30,40,50,60,70,80,90,100],"labels":false,"tickSize":-5,"title":null}},"y":{"field":"c","type":"quantitative","scale":{"domain":[918,1100],"zero":false,"nice":false},"axis":{"orient":"left","values":[950,1000,1050,1100],"title":null}}}},
{"mark":{"type":"tick","orient":"vertical","size":16.6,"thickness":1,"color":"black","opacity":1,"clip":true},"encoding":{"x":{"field":"t","type":"quantitative","scale":{"domain":[-10,100],"nice":false},"axis":{"orient":"top","values":[0,10,20,30,40,50,60,70,80,90,100],"labels":false,"tickSize":-5,"title":null}},"y":{"field":"c","type":"quantitative","scale":{"domain":[918,1100],"zero":false,"nice":false},"axis":{"orient":"right","values":[950,1000,1050,1100],"labels":false,"title":"n0","titleAngle":0,"titleAlign":"left","titleBaseline":"middle","titlePadding":12,"titleFontSize":12}}}},
{"mark":{"type":"line","opacity":0},"encoding":{"x":{"field":"t","type":"quantitative","scale":{"domain":[-10,100],"nice":false},"axis":null},"y":{"field":"c","type":"quantitative","scale":{"domain":[918,1100],"zero":false,"nice":false},"axis":{"orient":"left","tickCount":18,"labels":false,"tickSize":-3,"title":null}}}},
{"mark":{"type":"line","opacity":0},"encoding":{"x":{"field":"t","type":"quantitative","scale":{"domain":[-10,100],"nice":false},"axis":null},"y":{"field":"c","type":"quantitative","scale":{"domain":[918,1100],"zero":false,"nice":false},"axis":{"orient":"right","tickCount":18,"labels":false,"tickSize":-3,"title":null}}}}
],"resolve":{"axis":{"x":"independent","y":"independent"}}},
{"height":49,"width":543,"data":{"name":"n1"},"layer":[
{"mark":{"type":"line","interpolate":"step","color":"black","strokeWidth":1.3,"clip":true},"encoding":{"x":{"field":"t","type":"quantitative","scale":{"domain":[-10,100],"nice":false},"axis":{"orient":"bottom","values":[0,10,20,30,40,50,60,70,80,90,100],"labels":false,"tickSize":-5,"title":null}},"y":{"field":"c","type":"quantitative","scale":{"domain":[991,1155],"zero":false,"nice":false},"axis":{"orient":"left","values":[1000,1050,1100,1150],"title":null}}}},
{"mark":{"type":"tick","orient":"vertical","size":19,"thickness":1,"color":"black","opacity":1,"clip":true},"encoding":{"x":{"field":"t","type":"quantitative","scale":{"domain":[-10,100],"nice":false},"axis":{"orient":"top","values":[0,10,20,30,40,50,60,70,80,90,100],"labels":false,"tickSize":-5,"title":null}},"y":{"field":"c","type":"quantitative","scale":{"domain":[991,1155],"zero":false,"nice":false},"axis":{"orient":"right","values":[1000,1050,1100,1150],"labels":false,"title":"n1","titleAngle":0,"titleAlign":"left","titleBaseline":"middle","titlePadding":12,"titleFontSize":12}}}},
{"mark":{"type":"line","opacity":0},"encoding":{"x":{"field":"t","type":"quantitative","scale":{"domain":[-10,100],"nice":false},"axis":null},"y":{"field":"c","type":"quantitative","scale":{"domain":[991,1155],"zero":false,"nice":false},"axis":{"orient":"left","tickCount":16,"labels":false,"tickSize":-3,"title":null}}}},
{"mark":{"type":"line","opacity":0},"encoding":{"x":{"field":"t","type":"quantitative","scale":{"domain":[-10,100],"nice":false},"axis":null},"y":{"field":"c","type":"quantitative","scale":{"domain":[991,1155],"zero":false,"nice":false},"axis":{"orient":"right","tickCount":16,"labels":false,"tickSize":-3,"title":null}}}}
],"resolve":{"axis":{"x":"independent","y":"independent"}}},
{"height":48,"width":543,"data":{"name":"n2"},"layer":[
{"mark":{"type":"line","interpolate":"step","color":"black","strokeWidth":1.3,"clip":true},"encoding":{"x":{"field":"t","type":"quantitative","scale":{"domain":[-10,100],"nice":false},"axis":{"orient":"bottom","values":[0,10,20,30,40,50,60,70,80,90,100],"labels":false,"tickSize":-5,"title":null}},"y":{"field":"c","type":"quantitative","scale":{"domain":[879,1081],"zero":false,"nice":false},"axis":{"orient":"left","values":[900,950,1000,1050],"title":null}}}},
{"mark":{"type":"tick","orient":"vertical","size":14.9,"thickness":1,"color":"black","opacity":1,"clip":true},"encoding":{"x":{"field":"t","type":"quantitative","scale":{"domain":[-10,100],"nice":false},"axis":{"orient":"top","values":[0,10,20,30,40,50,60,70,80,90,100],"labels":false,"tickSize":-5,"title":null}},"y":{"field":"c","type":"quantitative","scale":{"domain":[879,1081],"zero":false,"nice":false},"axis":{"orient":"right","values":[900,950,1000,1050],"labels":false,"title":"n2","titleAngle":0,"titleAlign":"left","titleBaseline":"middle","titlePadding":12,"titleFontSize":12}}}},
{"mark":{"type":"line","opacity":0},"encoding":{"x":{"field":"t","type":"quantitative","scale":{"domain":[-10,100],"nice":false},"axis":null},"y":{"field":"c","type":"quantitative","scale":{"domain":[879,1081],"zero":false,"nice":false},"axis":{"orient":"left","tickCount":20,"labels":false,"tickSize":-3,"title":null}}}},
{"mark":{"type":"line","opacity":0},"encoding":{"x":{"field":"t","type":"quantitative","scale":{"domain":[-10,100],"nice":false},"axis":null},"y":{"field":"c","type":"quantitative","scale":{"domain":[879,1081],"zero":false,"nice":false},"axis":{"orient":"right","tickCount":20,"labels":false,"tickSize":-3,"title":null}}}}
],"resolve":{"axis":{"x":"independent","y":"independent"}}},
{"height":49,"width":543,"data":{"name":"n3"},"layer":[
{"mark":{"type":"line","interpolate":"step","color":"black","strokeWidth":1.3,"clip":true},"encoding":{"x":{"field":"t","type":"quantitative","scale":{"domain":[-10,100],"nice":false},"axis":{"orient":"bottom","values":[0,10,20,30,40,50,60,70,80,90,100],"labels":false,"tickSize":-5,"title":null}},"y":{"field":"c","type":"quantitative","scale":{"domain":[1030,1231],"zero":false,"nice":false},"axis":{"orient":"left","values":[1050,1100,1150,1200],"title":null}}}},
{"mark":{"type":"tick","orient":"vertical","size":16,"thickness":1,"color":"black","opacity":1,"clip":true},"encoding":{"x":{"field":"t","type":"quantitative","scale":{"domain":[-10,100],"nice":false},"axis":{"orient":"top","values":[0,10,20,30,40,50,60,70,80,90,100],"labels":false,"tickSize":-5,"title":null}},"y":{"field":"c","type":"quantitative","scale":{"domain":[1030,1231],"zero":false,"nice":false},"axis":{"orient":"right","values":[1050,1100,1150,1200],"labels":false,"title":"n3","titleAngle":0,"titleAlign":"left","titleBaseline":"middle","titlePadding":12,"titleFontSize":12}}}},
{"mark":{"type":"line","opacity":0},"encoding":{"x":{"field":"t","type":"quantitative","scale":{"domain":[-10,100],"nice":false},"axis":null},"y":{"field":"c","type":"quantitative","scale":{"domain":[1030,1231],"zero":false,"nice":false},"axis":{"orient":"left","tickCount":20,"labels":false,"tickSize":-3,"title":null}}}},
{"mark":{"type":"line","opacity":0},"encoding":{"x":{"field":"t","type":"quantitative","scale":{"domain":[-10,100],"nice":false},"axis":null},"y":{"field":"c","type":"quantitative","scale":{"domain":[1030,1231],"zero":false,"nice":false},"axis":{"orient":"right","tickCount":20,"labels":false,"tickSize":-3,"title":null}}}}
],"resolve":{"axis":{"x":"independent","y":"independent"}}},
{"height":49,"width":543,"data":{"name":"n4"},"layer":[
{"mark":{"type":"line","interpolate":"step","color":"black","strokeWidth":1.3,"clip":true},"encoding":{"x":{"field":"t","type":"quantitative","scale":{"domain":[-10,100],"nice":false},"axis":{"orient":"bottom","values":[0,10,20,30,40,50,60,70,80,90,100],"labels":false,"tickSize":-5,"title":null}},"y":{"field":"c","type":"quantitative","scale":{"domain":[992,1212],"zero":false,"nice":false},"axis":{"orient":"left","values":[1050,1100,1150,1200],"title":null}}}},
{"mark":{"type":"tick","orient":"vertical","size":14.6,"thickness":1,"color":"black","opacity":1,"clip":true},"encoding":{"x":{"field":"t","type":"quantitative","scale":{"domain":[-10,100],"nice":false},"axis":{"orient":"top","values":[0,10,20,30,40,50,60,70,80,90,100],"labels":false,"tickSize":-5,"title":null}},"y":{"field":"c","type":"quantitative","scale":{"domain":[992,1212],"zero":false,"nice":false},"axis":{"orient":"right","values":[1050,1100,1150,1200],"labels":false,"title":"n4","titleAngle":0,"titleAlign":"left","titleBaseline":"middle","titlePadding":12,"titleFontSize":12}}}},
{"mark":{"type":"line","opacity":0},"encoding":{"x":{"field":"t","type":"quantitative","scale":{"domain":[-10,100],"nice":false},"axis":null},"y":{"field":"c","type":"quantitative","scale":{"domain":[992,1212],"zero":false,"nice":false},"axis":{"orient":"left","tickCount":22,"labels":false,"tickSize":-3,"title":null}}}},
{"mark":{"type":"line","opacity":0},"encoding":{"x":{"field":"t","type":"quantitative","scale":{"domain":[-10,100],"nice":false},"axis":null},"y":{"field":"c","type":"quantitative","scale":{"domain":[992,1212],"zero":false,"nice":false},"axis":{"orient":"right","tickCount":22,"labels":false,"tickSize":-3,"title":null}}}}
],"resolve":{"axis":{"x":"independent","y":"independent"}}},
{"height":48,"width":543,"data":{"name":"n5"},"layer":[
{"mark":{"type":"line","interpolate":"step","color":"black","strokeWidth":1.3,"clip":true},"encoding":{"x":{"field":"t","type":"quantitative","scale":{"domain":[-10,100],"nice":false},"axis":{"orient":"bottom","values":[0,10,20,30,40,50,60,70,80,90,100],"labels":false,"tickSize":-5,"title":null}},"y":{"field":"c","type":"quantitative","scale":{"domain":[1066,1263],"zero":false,"nice":false},"axis":{"orient":"left","values":[1100,1150,1200,1250],"title":null}}}},
{"mark":{"type":"tick","orient":"vertical","size":16.8,"thickness":1,"color":"black","opacity":1,"clip":true},"encoding":{"x":{"field":"t","type":"quantitative","scale":{"domain":[-10,100],"nice":false},"axis":{"orient":"top","values":[0,10,20,30,40,50,60,70,80,90,100],"labels":false,"tickSize":-5,"title":null}},"y":{"field":"c","type":"quantitative","scale":{"domain":[1066,1263],"zero":false,"nice":false},"axis":{"orient":"right","values":[1100,1150,1200,1250],"labels":false,"title":"n5","titleAngle":0,"titleAlign":"left","titleBaseline":"middle","titlePadding":12,"titleFontSize":12}}}},
{"mark":{"type":"line","opacity":0},"encoding":{"x":{"field":"t","type":"quantitative","scale":{"domain":[-10,100],"nice":false},"axis":null},"y":{"field":"c","type":"quantitative","scale":{"domain":[1066,1263],"zero":false,"nice":false},"axis":{"orient":"left","tickCount":20,"labels":false,"tickSize":-3,"title":null}}}},
{"mark":{"type":"line","opacity":0},"encoding":{"x":{"field":"t","type":"quantitative","scale":{"domain":[-10,100],"nice":false},"axis":null},"y":{"field":"c","type":"quantitative","scale":{"domain":[1066,1263],"zero":false,"nice":false},"axis":{"orient":"right","tickCount":20,"labels":false,"tickSize":-3,"title":null}}}}
],"resolve":{"axis":{"x":"independent","y":"independent"}}},
{"height":49,"width":543,"data":{"name":"n6"},"layer":[
{"mark":{"type":"line","interpolate":"step","color":"black","strokeWidth":1.3,"clip":true},"encoding":{"x":{"field":"t","type":"quantitative","scale":{"domain":[-10,100],"nice":false},"axis":{"orient":"bottom","values":[0,10,20,30,40,50,60,70,80,90,100],"labels":false,"tickSize":-5,"title":null}},"y":{"field":"c","type":"quantitative","scale":{"domain":[1230,2550],"zero":false,"nice":false},"axis":{"orient":"left","values":[1500,2000,2500],"title":null}}}},
{"mark":{"type":"tick","orient":"vertical","size":2.7,"thickness":1,"color":"black","opacity":1,"clip":true},"encoding":{"x":{"field":"t","type":"quantitative","scale":{"domain":[-10,100],"nice":false},"axis":{"orient":"top","values":[0,10,20,30,40,50,60,70,80,90,100],"labels":false,"tickSize":-5,"title":null}},"y":{"field":"c","type":"quantitative","scale":{"domain":[1230,2550],"zero":false,"nice":false},"axis":{"orient":"right","values":[1500,2000,2500],"labels":false,"title":"n6","titleAngle":0,"titleAlign":"left","titleBaseline":"middle","titlePadding":12,"titleFontSize":12}}}},
{"mark":{"type":"line","opacity":0},"encoding":{"x":{"field":"t","type":"quantitative","scale":{"domain":[-10,100],"nice":false},"axis":null},"y":{"field":"c","type":"quantitative","scale":{"domain":[1230,2550],"zero":false,"nice":false},"axis":{"orient":"left","tickCount":13,"labels":false,"tickSize":-3,"title":null}}}},
{"mark":{"type":"line","opacity":0},"encoding":{"x":{"field":"t","type":"quantitative","scale":{"domain":[-10,100],"nice":false},"axis":null},"y":{"field":"c","type":"quantitative","scale":{"domain":[1230,2550],"zero":false,"nice":false},"axis":{"orient":"right","tickCount":13,"labels":false,"tickSize":-3,"title":null}}}}
],"resolve":{"axis":{"x":"independent","y":"independent"}}},
{"height":48,"width":543,"data":{"name":"n7"},"layer":[
{"mark":{"type":"line","interpolate":"step","color":"black","strokeWidth":1.3,"clip":true},"encoding":{"x":{"field":"t","type":"quantitative","scale":{"domain":[-10,100],"nice":false},"axis":{"orient":"bottom","values":[0,10,20,30,40,50,60,70,80,90,100],"labels":false,"tickSize":-5,"title":null}},"y":{"field":"c","type":"quantitative","scale":{"domain":[1180,3360],"zero":false,"nice":false},"axis":{"orient":"left","values":[1500,2000,2500,3000],"title":null}}}},
{"mark":{"type":"tick","orient":"vertical","size":1.6,"thickness":1,"color":"black","opacity":1,"clip":true},"encoding":{"x":{"field":"t","type":"quantitative","scale":{"domain":[-10,100],"nice":false},"axis":{"orient":"top","values":[0,10,20,30,40,50,60,70,80,90,100],"labels":false,"tickSize":-5,"title":null}},"y":{"field":"c","type":"quantitative","scale":{"domain":[1180,3360],"zero":false,"nice":false},"axis":{"orient":"right","values":[1500,2000,2500,3000],"labels":false,"title":"n7","titleAngle":0,"titleAlign":"left","titleBaseline":"middle","titlePadding":12,"titleFontSize":12}}}},
{"mark":{"type":"line","opacity":0},"encoding":{"x":{"field":"t","type":"quantitative","scale":{"domain":[-10,100],"nice":false},"axis":null},"y":{"field":"c","type":"quantitative","scale":{"domain":[1180,3360],"zero":false,"nice":false},"axis":{"orient":"left","tickCount":22,"labels":false,"tickSize":-3,"title":null}}}},
{"mark":{"type":"line","opacity":0},"encoding":{"x":{"field":"t","type":"quantitative","scale":{"domain":[-10,100],"nice":false},"axis":null},"y":{"field":"c","type":"quantitative","scale":{"domain":[1180,3360],"zero":false,"nice":false},"axis":{"orient":"right","tickCount":22,"labels":false,"tickSize":-3,"title":null}}}}
],"resolve":{"axis":{"x":"independent","y":"independent"}}},
{"height":49,"width":543,"data":{"name":"n8"},"layer":[
{"mark":{"type":"line","interpolate":"step","color":"black","strokeWidth":1.3,"clip":true},"encoding":{"x":{"field":"t","type":"quantitative","scale":{"domain":[-10,100],"nice":false},"axis":{"orient":"bottom","values":[0,10,20,30,40,50,60,70,80,90,100],"labels":false,"tickSize":-5,"title":null}},"y":{"field":"c","type":"quantitative","scale":{"domain":[1184,2500],"zero":false,"nice":false},"axis":{"orient":"left","values":[1500,2000,2500],"title":null}}}},
{"mark":{"type":"tick","orient":"vertical","size":2.7,"thickness":1,"color":"black","opacity":1,"clip":true},"encoding":{"x":{"field":"t","type":"quantitative","scale":{"domain":[-10,100],"nice":false},"axis":{"orient":"top","values":[0,10,20,30,40,50,60,70,80,90,100],"labels":false,"tickSize":-5,"title":null}},"y":{"field":"c","type":"quantitative","scale":{"domain":[1184,2500],"zero":false,"nice":false},"axis":{"orient":"right","values":[1500,2000,2500],"labels":false,"title":"n8","titleAngle":0,"titleAlign":"left","titleBaseline":"middle","titlePadding":12,"titleFontSize":12}}}},
{"mark":{"type":"line","opacity":0},"encoding":{"x":{"field":"t","type":"quantitative","scale":{"domain":[-10,100],"nice":false},"axis":null},"y":{"field":"c","type":"quantitative","scale":{"domain":[1184,2500],"zero":false,"nice":false},"axis":{"orient":"left","tickCount":13,"labels":false,"tickSize":-3,"title":null}}}},
{"mark":{"type":"line","opacity":0},"encoding":{"x":{"field":"t","type":"quantitative","scale":{"domain":[-10,100],"nice":false},"axis":null},"y":{"field":"c","type":"quantitative","scale":{"domain":[1184,2500],"zero":false,"nice":false},"axis":{"orient":"right","tickCount":13,"labels":false,"tickSize":-3,"title":null}}}}
],"resolve":{"axis":{"x":"independent","y":"independent"}}},
{"height":48,"width":543,"data":{"name":"n9"},"layer":[
{"mark":{"type":"line","interpolate":"step","color":"black","strokeWidth":1.3,"clip":true},"encoding":{"x":{"field":"t","type":"quantitative","scale":{"domain":[-10,100],"nice":false},"axis":{"orient":"bottom","values":[0,10,20,30,40,50,60,70,80,90,100],"labels":false,"tickSize":-5,"title":null}},"y":{"field":"c","type":"quantitative","scale":{"domain":[1280,3440],"zero":false,"nice":false},"axis":{"orient":"left","values":[1500,2000,2500,3000],"title":null}}}},
{"mark":{"type":"tick","orient":"vertical","size":1.7,"thickness":1,"color":"black","opacity":1,"clip":true},"encoding":{"x":{"field":"t","type":"quantitative","scale":{"domain":[-10,100],"nice":false},"axis":{"orient":"top","values":[0,10,20,30,40,50,60,70,80,90,100],"labels":false,"tickSize":-5,"title":null}},"y":{"field":"c","type":"quantitative","scale":{"domain":[1280,3440],"zero":false,"nice":false},"axis":{"orient":"right","values":[1500,2000,2500,3000],"labels":false,"title":"n9","titleAngle":0,"titleAlign":"left","titleBaseline":"middle","titlePadding":12,"titleFontSize":12}}}},
{"mark":{"type":"line","opacity":0},"encoding":{"x":{"field":"t","type":"quantitative","scale":{"domain":[-10,100],"nice":false},"axis":null},"y":{"field":"c","type":"quantitative","scale":{"domain":[1280,3440],"zero":false,"nice":false},"axis":{"orient":"left","tickCount":22,"labels":false,"tickSize":-3,"title":null}}}},
{"mark":{"type":"line","opacity":0},"encoding":{"x":{"field":"t","type":"quantitative","scale":{"domain":[-10,100],"nice":false},"axis":null},"y":{"field":"c","type":"quantitative","scale":{"domain":[1280,3440],"zero":false,"nice":false},"axis":{"orient":"right","tickCount":22,"labels":false,"tickSize":-3,"title":null}}}}
],"resolve":{"axis":{"x":"independent","y":"independent"}}},
{"height":49,"width":543,"data":{"name":"na"},"layer":[
{"mark":{"type":"line","interpolate":"step","color":"black","strokeWidth":1.3,"clip":true},"encoding":{"x":{"field":"t","type":"quantitative","scale":{"domain":[-10,100],"nice":false},"axis":{"orient":"bottom","values":[0,10,20,30,40,50,60,70,80,90,100],"labels":false,"tickSize":-5,"title":null}},"y":{"field":"c","type":"quantitative","scale":{"domain":[560,2730],"zero":false,"nice":false},"axis":{"orient":"left","values":[1000,1500,2000,2500],"title":null}}}},
{"mark":{"type":"tick","orient":"vertical","size":1.5,"thickness":1,"color":"black","opacity":1,"clip":true},"encoding":{"x":{"field":"t","type":"quantitative","scale":{"domain":[-10,100],"nice":false},"axis":{"orient":"top","values":[0,10,20,30,40,50,60,70,80,90,100],"labels":false,"tickSize":-5,"title":null}},"y":{"field":"c","type":"quantitative","scale":{"domain":[560,2730],"zero":false,"nice":false},"axis":{"orient":"right","values":[1000,1500,2000,2500],"labels":false,"title":"na","titleAngle":0,"titleAlign":"left","titleBaseline":"middle","titlePadding":12,"titleFontSize":12}}}},
{"mark":{"type":"line","opacity":0},"encoding":{"x":{"field":"t","type":"quantitative","scale":{"domain":[-10,100],"nice":false},"axis":null},"y":{"field":"c","type":"quantitative","scale":{"domain":[560,2730],"zero":false,"nice":false},"axis":{"orient":"left","tickCount":22,"labels":false,"tickSize":-3,"title":null}}}},
{"mark":{"type":"line","opacity":0},"encoding":{"x":{"field":"t","type":"quantitative","scale":{"domain":[-10,100],"nice":false},"axis":null},"y":{"field":"c","type":"quantitative","scale":{"domain":[560,2730],"zero":false,"nice":false},"axis":{"orient":"right","tickCount":22,"labels":false,"tickSize":-3,"title":null}}}}
],"resolve":{"axis":{"x":"independent","y":"independent"}}},
{"height":49,"width":543,"data":{"name":"nb"},"layer":[
{"mark":{"type":"line","interpolate":"step","color":"black","strokeWidth":1.3,"clip":true},"encoding":{"x":{"field":"t","type":"quantitative","scale":{"domain":[-10,100],"nice":false},"axis":{"orient":"bottom","values":[0,10,20,30,40,50,60,70,80,90,100],"labelExpr":"datum.value % 20 === 0 ? datum.label : ''","labelFontSize":21,"labelPadding":14,"tickSize":-5,"title":"Time − 269633864.841370 [sec]","titleFontSize":16,"titlePadding":8}},"y":{"field":"c","type":"quantitative","scale":{"domain":[1250,3700],"zero":false,"nice":false},"axis":{"orient":"left","values":[2000,3000],"title":null}}}},
{"mark":{"type":"tick","orient":"vertical","size":1.5,"thickness":1,"color":"black","opacity":1,"clip":true},"encoding":{"x":{"field":"t","type":"quantitative","scale":{"domain":[-10,100],"nice":false},"axis":{"orient":"top","values":[0,10,20,30,40,50,60,70,80,90,100],"labels":false,"tickSize":-5,"title":null}},"y":{"field":"c","type":"quantitative","scale":{"domain":[1250,3700],"zero":false,"nice":false},"axis":{"orient":"right","values":[2000,3000],"labels":false,"title":"nb","titleAngle":0,"titleAlign":"left","titleBaseline":"middle","titlePadding":12,"titleFontSize":12}}}},
{"mark":{"type":"line","opacity":0},"encoding":{"x":{"field":"t","type":"quantitative","scale":{"domain":[-10,100],"nice":false},"axis":null},"y":{"field":"c","type":"quantitative","scale":{"domain":[1250,3700],"zero":false,"nice":false},"axis":{"orient":"left","tickCount":12,"labels":false,"tickSize":-3,"title":null}}}},
{"mark":{"type":"line","opacity":0},"encoding":{"x":{"field":"t","type":"quantitative","scale":{"domain":[-10,100],"nice":false},"axis":null},"y":{"field":"c","type":"quantitative","scale":{"domain":[1250,3700],"zero":false,"nice":false},"axis":{"orient":"right","tickCount":12,"labels":false,"tickSize":-3,"title":null}}}}
],"resolve":{"axis":{"x":"independent","y":"independent"}}}
]}
